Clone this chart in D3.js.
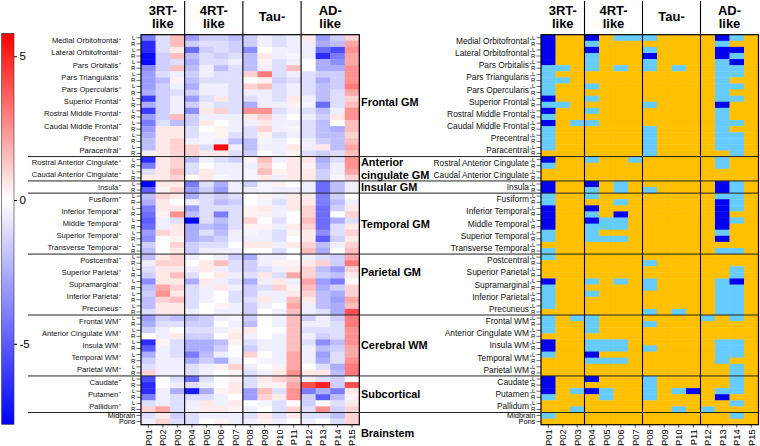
<!DOCTYPE html>
<html><head><meta charset="utf-8">
<script src="https://cdn.jsdelivr.net/npm/d3@7"></script>
<style>
body{margin:0;background:#fff}
svg{display:block;font-family:"Liberation Sans",Arial,Helvetica,sans-serif}
</style>
</head><body>
<svg id="chart" width="760" height="446"></svg>
<script>
// ---------------- DATA ----------------
const patients = ["P01","P02","P03","P04","P05","P06","P07","P08","P09","P10","P11","P12","P13","P14","P15"];
const groupHeaders = [["3RT-","like"],["4RT-","like"],["Tau-"],["AD-","like"]];
const groupSizes = [3,4,4,4];

const regionGroupNames = [["Frontal GM"],["Anterior","cingulate GM"],["Insular GM"],["Temporal GM"],["Parietal GM"],["Cerebral WM"],["Subcortical"],["Brainstem"]];
const regionGroupCounts = [10,2,1,5,5,5,3,2];
const regionGroupAnchor = ["Superior Frontal","*","Insula","Middle Temporal","Superior Parietal","Insula WM","Putamen","below"];
const bilateralGroup = [true,true,true,true,true,true,true,false];
const regionNames = [
 "Medial Orbitofrontal","Lateral Orbitofrontal","Pars Orbitalis","Pars Triangularis","Pars Opercularis",
 "Superior Frontal","Rostral Middle Frontal","Caudal Middle Frontal","Precentral","Paracentral",
 "Rostral Anterior Cingulate","Caudal Anterior Cingulate",
 "Insula",
 "Fusiform","Inferior Temporal","Middle Temporal","Superior Temporal","Transverse Temporal",
 "Postcentral","Superior Parietal","Supramarginal","Inferior Parietal","Precuneus",
 "Frontal WM","Anterior Cingulate WM","Insula WM","Temporal WM","Parietal WM",
 "Caudate","Putamen","Pallidum",
 "Midbrain","Pons"];

// z-scores (rows: region L, region R, ...; columns P01..P15)
const zScores = [
 [-4,-1,1.5,-3,-1.5,-1.5,-2,-1.5,-0.5,-1,-0.5,0.5,-3,-1.5,1],
 [-6.5,-1,1.5,-1.5,-1,-1,-1.5,-1.5,-0.5,-1,-0.5,-0.5,-2.5,-2,2],
 [-6.5,-1,0.5,-4.5,-1.5,-1,-1.5,-3.5,0,-0.5,-0.5,-0.5,-4.5,-5.5,2.5],
 [-7.5,-1.5,1.5,-2,-1,-1.5,-1,-2,0.5,-0.5,-0.3,-0.5,-6.5,-4,2],
 [-7.5,-1.5,-1,-2.5,-1,-1,-0.5,-2,0.3,-1,-0.5,0,-2.5,-3.5,2],
 [-3.5,-1.5,1.5,-2,-0.5,-2,-1,-2,-0.5,-1,1.5,0,-2.5,-2.5,2.5],
 [-3,-1,-0.5,-1.5,-0.5,-1,-1,1,3,-1,-0.5,-1,-1.5,-1.5,2.5],
 [-3,-2,0.3,-2,-1,-1,-1,0,0.3,-1.5,-1,-1,-2.5,-1.5,2.5],
 [-3,-1.5,-0.5,-2.5,-0.5,-0.5,-1,1,1.5,-1,-0.5,-1,-2,-1.5,3],
 [-2.5,-1.5,-1,-1.5,-0.5,-0.5,-1,-0.5,-0.5,-1,-0.5,-1,-2,-1,2],
 [-6,-1.5,-0.5,-3,-1,0.5,-1,-1,-0.5,-1,0.5,-0.5,-2,-1,1],
 [-2.5,-1.5,-0.5,-1.5,-0.5,-1,-1,-2.5,-0.5,-0.5,0.3,-0.3,-4.5,-1,1.5],
 [-6,-1.5,-0.5,-3.5,0.5,1,-1,2.5,2.5,-1,-0.5,-1,-2,-0.5,2.5],
 [-3,-1.5,1.5,-1.5,-0.5,-0.5,-0.5,0.5,1,-0.5,0,-0.5,-1.5,0.5,2.5],
 [-4,-1,-2,-1.5,0.5,0,-0.5,-0.5,0.5,-0.5,-0.5,-1,-2,0,1.5],
 [-3,0.5,0.5,-1,0,0.3,-0.5,-1,1,-0.5,-0.3,-1,-2,-2.5,1.5],
 [-2.5,0.5,0.5,-1,-0.3,0.3,-1,-1,0.3,-1,-0.5,-1,-2,-2,1],
 [-2,0.5,1,-0.5,-0.3,-0.5,-2,-2,-0.3,-0.5,0,-0.5,-1.5,-2,1.5],
 [-2,0.5,1,1,-1,5.5,-0.5,-2,-0.5,-0.5,0.5,-0.5,0.5,-2,2],
 [-0.5,0.5,1,1,0.5,0.5,-1,-1.5,0,-0.5,0.3,-1,-1.5,-1,1.5],
 [-6.5,0.5,1,-2,-0.5,-1,-1.5,0.3,1.5,-0.5,0.5,0.5,-2.5,-1,2.5],
 [-4,0.5,1,-1,0,-0.5,-0.5,-0.5,1,0,0.5,0.3,-2,-0.5,2.5],
 [-1,0.5,1.5,-1,0.5,-0.5,-0.5,-0.3,1.5,0.3,0.5,0.5,-1.5,-0.5,2],
 [0.5,0.5,1,0,0.5,-0.3,-0.5,-0.3,0.5,-0.5,0.5,0.5,-1.5,-0.3,1],
 [-7.8,0.5,0.5,-4,-1,-2.5,-0.5,-1.5,-0.3,0.3,0,-0.5,-4.5,-2,-0.5],
 [-5,0.3,1,-3,-1.5,-3,-0.5,-0.5,-0.3,-0.5,-0.5,-0.5,-4.5,-2,-0.5],
 [-2,1,0.5,-2.5,-1,-1.5,-1,0,0.3,-0.5,0.5,0.5,-4,-1.5,0],
 [-2.5,0.5,0,-0.5,-1,-2,-1.5,0,-0.3,-1,0.5,0.5,-4,-2,-0.5],
 [-4,0.5,0.5,-3,-1,-1,-1,0.3,0.5,-0.5,0.5,1,-4.5,-1.5,0.5],
 [-4.5,0.3,2.5,-2,-1,-4,-1,0.3,0.3,-0.5,0,1,-4.5,0,1],
 [-5,-0.5,-1,-7.8,-1,-2,-1,1,0,-1,0,1.5,-4.5,-2.5,-1],
 [-4.5,-0.5,0.5,-2.5,-2,-2.5,-1,0.3,0.3,-0.5,0.5,1,-4.5,-1,0.5],
 [-3,1,0.5,-2.5,-1,-2,-0.5,-0.3,-0.5,-1,0.3,0.5,-3.5,-1,1],
 [-3.5,0,0.3,-2.5,-2,-1.5,-0.5,-0.5,-0.5,-1,0,0.5,-5,-1.5,0.5],
 [-1.5,0,1,-1.5,-1,-1,0,0.5,0.5,-0.5,0.5,1,-2,-0.5,1],
 [-2,0,0.5,-1.5,-0.5,-0.5,-0.5,0,0,-1,0,1.5,-2.5,0,1.5],
 [-2,0.5,1,-0.5,0,-0.5,-1.5,-2.5,-0.5,-0.5,0,-0.5,-1,-1.5,2],
 [-0.5,1,1,0,0.5,1.5,-1,-1.5,-0.5,0.3,0.3,0.5,1,-1.5,3],
 [-1,0.5,0.5,-0.5,0.5,-0.5,-1,-1.5,-1,-0.5,0.5,1,-2,-3,1],
 [-1.5,0.5,1.5,-1,0,0.5,-0.5,-1,0.5,-1,2,1,-1.5,-2,0.5],
 [-3.5,0.5,0.5,-2.5,0.5,-0.5,-1,-2.5,-0.5,0.5,-0.5,2,-3,-4,0],
 [-2,2,1,-1,-0.5,0.5,-0.5,-1.5,-1,1,0.3,1.5,-2.5,-1.5,1],
 [-1.5,2.5,0.5,-1,-0.5,0,-1,-1.5,-0.5,-0.5,0.5,1,-2,-2.5,1],
 [-2,1,1.5,-1,-0.5,0,-1,-1,0.5,-0.5,1.5,0.5,-2,-3,2],
 [-2,0.5,0.5,-1,0,0.3,-0.5,-1.5,-0.5,0,2,-0.5,-2,-2.5,1.5],
 [-1,0.5,0.5,-0.5,0,-0.5,-0.5,-1.5,0,-0.5,1.5,-0.5,-1,-2.5,4],
 [-3,-1.5,-2,-2,-1.5,-0.5,-0.3,-1.5,0,-0.5,1.5,-1.5,-0.5,-1.5,3],
 [-2.5,-1,-1,-1.5,-1.5,0,-0.5,-2,0,-0.5,1.5,-0.5,-0.5,-1,3],
 [-1.5,-0.5,0,-1,-1,-0.5,0.3,0.5,0,0,1.5,-1,-1,-1,2.5],
 [0,-0.5,0.5,-1.5,-1.5,0,0.5,-0.5,0,-0.5,1.5,-0.5,-1.5,-1,2.5],
 [-6.5,0.3,-1,-2.5,-2.5,-2,0.3,-1,-0.5,-0.5,1.5,-1,-3.5,-2,2.5],
 [-5,-0.5,-1,-2.5,-2.5,-1.5,0,-1.5,-0.5,-0.5,1.5,-0.5,-2,-1.5,2],
 [-2.5,-0.5,-1,-4,-2,-0.5,0,1,0,-0.5,2,-0.5,-3,-1,2],
 [-1.5,-0.5,-0.5,-2.5,-1.5,-2.5,-0.5,0,-0.3,-0.5,2,-0.5,-2.5,-1,2.5],
 [-1,-0.5,-0.5,-1,-0.5,0.3,1,-0.5,0,0.3,2,0,-1,-2.5,3],
 [1,-0.5,-0.5,-1,-0.5,0,0.3,-1,-0.5,0.5,2.5,0.5,0.5,-2,3],
 [-5.5,0,-1,-4.5,-1,0,0.3,-1,0.5,1,1.5,-0.5,-1,-1.5,0],
 [-6.5,0,-0.5,-1,-0.5,0,0.5,-1,0.3,0.3,2,4,5,-1.5,4],
 [-6.5,-0.5,-2.5,-7,-2.5,0.3,0.5,-3,1.5,-1,2.5,-4,-2.5,-4,0.5],
 [-4,-0.5,-1,-1,-1,-0.5,0,-3,1,0.5,2.5,-1.5,-5,-2,0.3],
 [-1,-0.5,-1,-0.5,0.5,-0.5,0.5,0,-0.3,-1,0,-1.5,0,-1,0.5],
 [1,2,-1,-0.5,0.5,0.5,0.3,-0.5,0,-1,1,-1,2.5,-1.5,1],
 [-1,0.5,-1.5,-1,-0.5,-0.5,-0.5,-1,0.5,-1,0.5,-1,-1,-2,1],
 [-0.5,1,-1,-1,0,0.3,-0.5,-0.5,0.3,-0.5,0,-0.5,0,-1,1]
];

// status per cell: 0 = normal, 1 = mild, 2 = severe
const statusRows = [
 "200201110000210","200100000000100","200200010000220","200100020000210","200100010000120",
 "110101010100110","100000000000110","110000000000100","100100000000110","100000000000100",
 "200100000000110","110000010000200","200100000000100","100000000000100","201100000000110",
 "100000010000100","100000010000110","100000010000110","100000010000110","000000010000010",
 "200100100000100","100000000000100","000000000000000","000000000000000",
 "200201000000210","200101010000210",
 "100100000000110","100001000000210","200200000000210","200102000000200","200211000000210",
 "200111000000200","100100000000100","100111000000200","000000000000000","100000000000110",
 "100000000000000","000000010000000","000000000000010","000000000000010","200101010000120",
 "100000010000110","100100000000110","100000000000110","100000000000110","000000010100110",
 "101100000001010","100100010000000","100100000000000","000000000000000","200111000000110",
 "200111010000110","100200000000110","000111000000100","000000000000010","000000000000010",
 "200200010000010","200000010000010","201210010120110","100010010000200","000000000000010",
 "001000000101000",
 "100000000000010","000000000000000"
];

const colorbarTicks = [-5,0,5];
const zDomain = [-7.8, 0, 5.8];

// ---------------- BUILD ROWS ----------------
const rows = [];
const groupRowRanges = [];
{
  let ri = 0;
  regionGroupCounts.forEach((cnt, gi) => {
    const start = rows.length;
    for (let k = 0; k < cnt; k++, ri++) {
      const name = regionNames[ri];
      if (bilateralGroup[gi]) {
        rows.push({region:name, side:"L", group:gi, first:true});
        rows.push({region:name, side:"R", group:gi, first:false});
      } else {
        rows.push({region:name, side:null, group:gi, first:true});
      }
    }
    groupRowRanges.push([start, rows.length]);
  });
}

// ---------------- LAYOUT ----------------
const svg = d3.select("#chart");
const yTop = 34.7, yBottom = 424.7;
const y = d3.scaleBand().domain(d3.range(rows.length)).range([yTop, yBottom]);
const xL = d3.scaleBand().domain(patients).range([141, 359.3]);
const xR = d3.scaleBand().domain(patients).range([541, 758.5]);
const zColor = d3.scaleLinear().domain(zDomain).range(["#0000ff","#ffffff","#ff0000"]);
const statusColor = d3.scaleOrdinal().domain([0,1,2]).range(["#FFC000","#66CCFF","#0000EE"]);

function drawPanel(x, fillFn, labGap, labFont, smallFont) {
  const g = svg.append("g");
  const cells = [];
  rows.forEach((r, i) => patients.forEach((p, j) => cells.push({i, j, p})));
  g.selectAll("rect.cell").data(cells).join("rect")
    .attr("class","cell")
    .attr("x", d => x(d.p)).attr("y", d => y(d.i))
    .attr("width", x.bandwidth() + 0.4).attr("height", y.bandwidth() + 0.4)
    .attr("fill", d => fillFn(d.i, d.j));

  const x0 = x.range()[0], x1 = x.range()[1];
  const ax = d3.axisLeft(y).tickSize(4.5).tickPadding(1.2)
    .tickFormat(i => rows[i].side || rows[i].region);
  const axG = g.append("g").attr("transform", `translate(${x0},0)`).call(ax);
  axG.select(".domain").remove();
  axG.selectAll(".tick line").attr("stroke","#000").attr("stroke-width",0.6);
  axG.selectAll(".tick text")
    .attr("font-size", i => rows[i].side ? 6 : smallFont)
    .attr("fill","#000").attr("font-family","Liberation Sans, Arial, sans-serif");

  const labEnd = x0 - labGap;
  rows.forEach((r, i) => {
    if (!r.side || !r.first) return;
    const cy = y(i) + y.bandwidth();
    g.append("text").attr("x", labEnd).attr("y", cy)
      .attr("text-anchor","end").attr("dominant-baseline","central")
      .attr("font-size", labFont).attr("fill","#111").text(r.region);
    g.append("line").attr("x1", labEnd + 0.8).attr("x2", labEnd + 2.8)
      .attr("y1", cy - 1.5).attr("y2", cy - 1.5).attr("stroke","#000").attr("stroke-width",0.6);
  });

  const bx = d3.axisBottom(x).tickSize(3).tickPadding(0);
  const bG = g.append("g").attr("transform", `translate(0,${yBottom})`).call(bx);
  bG.select(".domain").remove();
  bG.selectAll(".tick line").attr("stroke","#000").attr("stroke-width",0.7);
  bG.selectAll(".tick text")
    .attr("transform","rotate(-90)").attr("x",-4.5).attr("y",0).attr("dy","0.35em")
    .attr("text-anchor","end").attr("font-size",9.4).attr("fill","#000")
    .attr("font-family","Liberation Sans, Arial, sans-serif");

  let c = 0;
  groupHeaders.forEach((hdr, gi) => {
    const a = x(patients[c]);
    const b = x(patients[c + groupSizes[gi] - 1]) + x.bandwidth();
    const cx = (a + b) / 2;
    const t = g.append("text").attr("x", cx).attr("text-anchor","middle")
      .attr("font-weight","bold").attr("font-size",13).attr("fill","#000");
    if (hdr.length === 2) {
      t.append("tspan").attr("x", cx).attr("y", 14.6).text(hdr[0]);
      t.append("tspan").attr("x", cx).attr("y", 27.6).text(hdr[1]);
    } else {
      t.append("tspan").attr("x", cx).attr("y", 20.5).text(hdr[0]);
    }
    c += groupSizes[gi];
    if (gi < groupHeaders.length - 1) {
      g.append("line").attr("x1", b).attr("x2", b).attr("y1", 1).attr("y2", yBottom)
        .attr("stroke","#000").attr("stroke-width",1.1);
    }
  });
  g.append("rect").attr("x", x0).attr("y", yTop).attr("width", x1 - x0).attr("height", yBottom - yTop)
    .attr("fill","none").attr("stroke","#000").attr("stroke-width",1.2);
}

drawPanel(xL, (i, j) => zColor(zScores[i][j]), 22.7, 7.6, 7.2);
drawPanel(xR, (i, j) => statusColor(+statusRows[i][j]), 12, 8.4, 7.4);

groupRowRanges.slice(1).forEach(([s]) => {
  svg.append("line").attr("x1", 28).attr("x2", 758.5)
    .attr("y1", y(s)).attr("y2", y(s)).attr("stroke","#222").attr("stroke-width",1);
});

groupRowRanges.forEach(([s, e], gi) => {
  let cy;
  const anchor = regionGroupAnchor[gi];
  if (anchor === "below") cy = yBottom + 8;
  else if (anchor === "*") cy = (y(s) + y(e - 1) + y.bandwidth()) / 2;
  else {
    const idx = rows.findIndex(r => r.region === anchor);
    cy = y(idx) + y.bandwidth();
  }
  const names = regionGroupNames[gi];
  const lh = 12.6;
  names.forEach((nm, k) => {
    svg.append("text").attr("x", 361).attr("y", cy + (k - (names.length - 1) / 2) * lh)
      .attr("dominant-baseline","central").attr("font-weight","bold").attr("font-size",10.9)
      .attr("fill","#000").text(nm);
  });
});

const yc = d3.scaleLinear().domain([zDomain[0], zDomain[2]]).range([424.3, 33.3]);
const defs = svg.append("defs");
const grad = defs.append("linearGradient").attr("id","cbar").attr("x1",0).attr("y1",1).attr("x2",0).attr("y2",0);
zDomain.forEach(v => grad.append("stop")
  .attr("offset", (v - zDomain[0]) / (zDomain[2] - zDomain[0]))
  .attr("stop-color", zColor(v)));
svg.append("rect").attr("x",1.7).attr("y",yc(zDomain[2])).attr("width",12.3)
  .attr("height", yc(zDomain[0]) - yc(zDomain[2])).attr("fill","url(#cbar)")
  .attr("stroke","#333").attr("stroke-width",0.6);
const cAx = d3.axisRight(yc).tickValues(colorbarTicks).tickSize(3).tickPadding(2.5).tickFormat(d => String(d));
const cG = svg.append("g").attr("transform","translate(14,0)").call(cAx);
cG.select(".domain").remove();
cG.selectAll(".tick line").attr("stroke","#000");
cG.selectAll(".tick text").attr("font-size",11.5).attr("fill","#000")
  .attr("font-family","Liberation Sans, Arial, sans-serif");
</script>
</body></html>
